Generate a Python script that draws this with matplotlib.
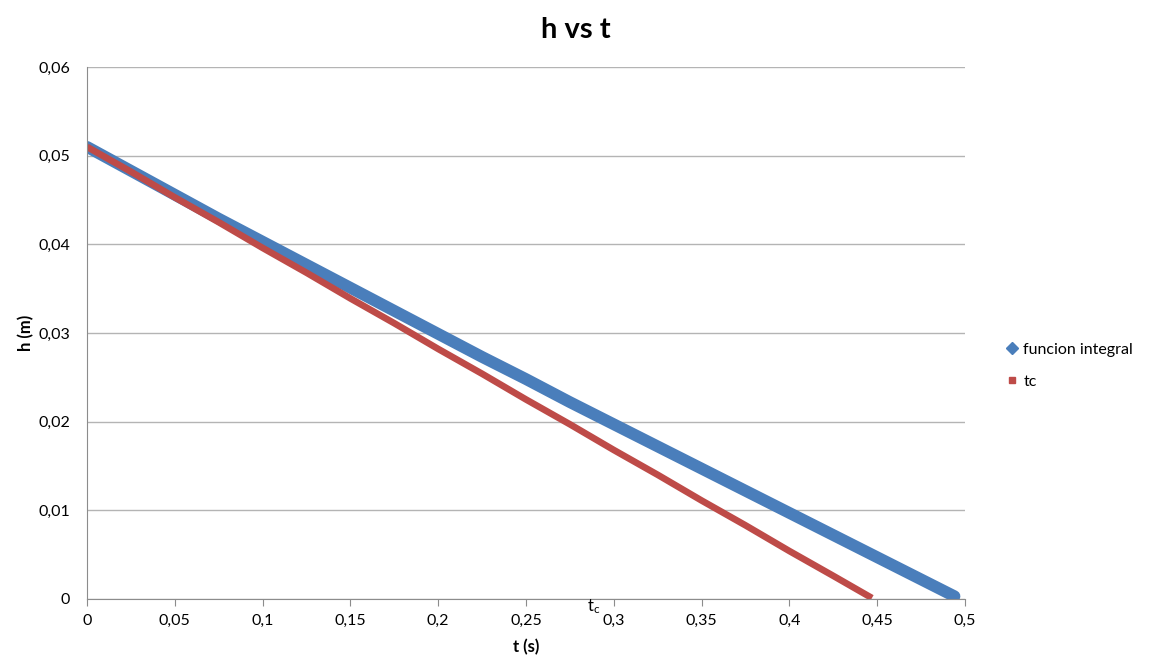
import matplotlib
matplotlib.use('Agg')
import matplotlib.pyplot as plt
from matplotlib.lines import Line2D

plt.rcParams['font.family'] = ['Lato', 'DejaVu Sans']

# funcion integral (blue)
t_int = [0, 0.025, 0.05, 0.075, 0.1, 0.125, 0.15, 0.175, 0.2, 0.225, 0.25,
         0.275, 0.3, 0.325, 0.35, 0.375, 0.4, 0.425, 0.45, 0.475, 0.494]
h_int = [0.0510, 0.0483, 0.0456, 0.0429, 0.0403, 0.0377, 0.0351, 0.0325, 0.0299,
         0.0273, 0.0248, 0.0222, 0.0197, 0.0172, 0.0147, 0.0122, 0.0097, 0.0072,
         0.0047, 0.0022, 0.0003]

# tc (red)
t_tc = [0, 0.025, 0.05, 0.075, 0.1, 0.125, 0.15, 0.175, 0.2, 0.225, 0.25,
        0.275, 0.3, 0.325, 0.35, 0.375, 0.4, 0.425, 0.447]
h_tc = [0.0510, 0.0482, 0.0453, 0.0425, 0.0396, 0.0368, 0.0339, 0.0311, 0.0282,
        0.0254, 0.0225, 0.0197, 0.0168, 0.0140, 0.0111, 0.0083, 0.0054, 0.0026,
        0.0001]

xticks = [0, 0.05, 0.1, 0.15, 0.2, 0.25, 0.3, 0.35, 0.4, 0.45, 0.5]
xticklabels = ['0', '0,05', '0,1', '0,15', '0,2', '0,25', '0,3', '0,35', '0,4', '0,45', '0,5']
yticks = [0, 0.01, 0.02, 0.03, 0.04, 0.05, 0.06]
yticklabels = ['0', '0,01', '0,02', '0,03', '0,04', '0,05', '0,06']

blue = '#4A7EBB'
red = '#BE4B48'
grid_grey = '#B4B4B4'
axis_grey = '#8C8C8C'

fig = plt.figure(figsize=(11.52, 6.64), dpi=100)
ax = fig.add_axes([0.0755, 0.098, 0.7622, 0.801])

ax.plot(t_int, h_int, '-', color=blue, lw=8.5, solid_capstyle='round')
ax.plot(t_tc, h_tc, '-', color=red, lw=4.8, solid_capstyle='butt')

ax.set_xlim(0, 0.5)
ax.set_ylim(0, 0.06)
ax.set_xticks(xticks)
ax.set_xticklabels(xticklabels)
ax.set_yticks(yticks)
ax.set_yticklabels(yticklabels)
ax.tick_params(axis='x', length=5, color=axis_grey, labelsize=11.5, pad=6)
ax.tick_params(axis='y', length=0, labelsize=11.5, pad=12)

ax.grid(axis='y', color=grid_grey, lw=1)
ax.set_axisbelow(True)
for s in ['top', 'right']:
    ax.spines[s].set_visible(False)
for s in ['left', 'bottom']:
    ax.spines[s].set_color(axis_grey)

fig.text(0.5, 0.955, 'h vs t', fontsize=21, fontweight='bold', ha='center', va='center')
ax.set_xlabel('t (s)', fontsize=12, fontweight='bold', labelpad=8)
ax.set_ylabel('h (m)', fontsize=12, fontweight='bold', labelpad=3)

ax.annotate(r'$\mathregular{t_c}$', xy=(0.285, 0), xytext=(0, 1),
            textcoords='offset points', ha='left', va='top', fontsize=12,
            annotation_clip=False)

handles = [Line2D([], [], ls='none', marker='D', ms=6, color=blue),
           Line2D([], [], ls='none', marker='s', ms=4.5, color=red)]
fig.legend(handles, ['funcion integral', 'tc'], loc='center left',
           bbox_to_anchor=(0.862, 0.449), frameon=False, fontsize=11.5,
           handlelength=0.6, handletextpad=0.4, labelspacing=1.1)

fig.savefig('out.png', dpi=100)
